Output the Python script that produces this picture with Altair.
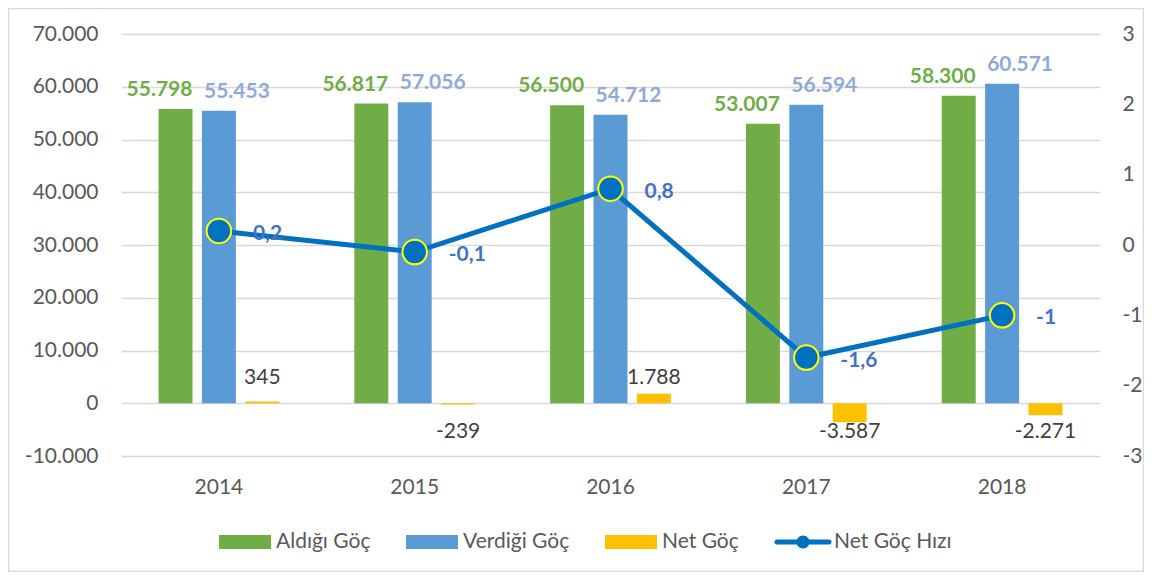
import altair as alt
import pandas as pd

# ---- data ----
years = ["2014", "2015", "2016", "2017", "2018"]
aldigi = [55798, 56817, 56500, 53007, 58300]
verdigi = [55453, 57056, 54712, 56594, 60571]
net = [345, -239, 1788, -3587, -2271]
hiz = [0.2, -0.1, 0.8, -1.6, -1.0]

bar_series = ["Aldığı Göç", "Verdiği Göç", "Net Göç"]
all_series = ["Aldığı Göç", "Verdiği Göç", "Net Göç", "Net Göç Hızı"]
colors = ["#70AD47", "#5B9BD5", "#FFC000", "#0070C0"]
left_ticks = [-10000, 0, 10000, 20000, 30000, 40000, 50000, 60000, 70000]
right_ticks = [-3, -2, -1, 0, 1, 2, 3]

# ---- tables ----
rows = []
for i, y in enumerate(years):
    rows.append({"year": y, "series": bar_series[0], "value": aldigi[i]})
    rows.append({"year": y, "series": bar_series[1], "value": verdigi[i]})
    rows.append({"year": y, "series": bar_series[2], "value": net[i]})
bars_df = pd.DataFrame(rows)
line_df = pd.DataFrame({"year": years, "hiz": hiz})
legend_df = pd.DataFrame({"series": all_series})
frame_df = pd.DataFrame({"k": [0]})

rect_path = "M-1,-0.27H1V0.27H-1Z"
line_path = ("M-1,-0.1H1A0.1,0.1 0 0 1 1,0.1H-1A0.1,0.1 0 0 1 -1,-0.1Z "
             "M0.25,0A0.25,0.25 0 1 1 -0.25,0A0.25,0.25 0 1 1 0.25,0Z")
shapes = [rect_path, rect_path, rect_path, line_path]

AX = "#595959"
FS = 21

X = alt.X("year:N", scale=alt.Scale(domain=years, paddingInner=0, paddingOuter=0),
          axis=alt.Axis(title=None, labelAngle=0, labelFontSize=FS, labelColor=AX,
                        domain=False, ticks=False, labelPadding=20, grid=False))
XOFF = alt.XOffset("series:N", scale=alt.Scale(domain=bar_series, paddingInner=0.217,
                                               paddingOuter=0.865))
YL = alt.Y("value:Q", scale=alt.Scale(domain=[-10000, 70000], nice=False, zero=False),
           axis=alt.Axis(title=None, values=left_ticks, format=",.0f", labelFontSize=FS,
                         labelColor=AX, domain=False, ticks=False, labelPadding=23,
                         gridColor="#D9D9D9", gridWidth=1.3))
YR = alt.Y("hiz:Q", scale=alt.Scale(domain=[-3, 3], nice=False, zero=False),
           axis=alt.Axis(title=None, orient="right", values=right_ticks, format="d",
                         labelFontSize=FS, labelColor=AX, domain=False, ticks=False,
                         labelPadding=22, grid=False))

LEG = alt.Legend(title=None, orient="none", legendX=98, legendY=482, direction="horizontal",
                 symbolSize=2704, labelFontSize=FS, labelColor=AX, labelOffset=5,
                 columnPadding=35, padding=0, labelLimit=300, symbolStrokeWidth=0)
COLOR = alt.Color("series:N", scale=alt.Scale(domain=all_series, range=colors), legend=LEG)

base = alt.Chart(bars_df)
bars = base.mark_bar().encode(x=X, xOffset=XOFF, y=YL, color=COLOR)

green_lbl = base.transform_filter(alt.datum.series == bar_series[0]).mark_text(
    fontSize=FS, fontWeight="bold", color="#70AD47", baseline="middle", dy=-19, dx=-16
).encode(x=X, xOffset=XOFF, y=YL, text=alt.Text("value:Q", format=",.0f"))
blue_lbl = base.transform_filter(alt.datum.series == bar_series[1]).mark_text(
    fontSize=FS, fontWeight="bold", color="#8EAADB", baseline="middle", dy=-19, dx=18
).encode(x=X, xOffset=XOFF, y=YL, text=alt.Text("value:Q", format=",.0f"))
net_pos = base.transform_filter((alt.datum.series == bar_series[2]) & (alt.datum.value >= 0)).mark_text(
    fontSize=FS, color="#404040", baseline="middle", dy=-25
).encode(x=X, xOffset=XOFF, y=alt.Y(datum=0, scale=alt.Scale(domain=[-10000, 70000], nice=False, zero=False)),
         text=alt.Text("value:Q", format=",.0f"))
net_neg = base.transform_filter((alt.datum.series == bar_series[2]) & (alt.datum.value < 0)).mark_text(
    fontSize=FS, color="#404040", baseline="middle", dy=29
).encode(x=X, xOffset=XOFF, y=alt.Y(datum=0, scale=alt.Scale(domain=[-10000, 70000], nice=False, zero=False)),
         text=alt.Text("value:Q", format=",.0f"))

left = alt.layer(bars, green_lbl, blue_lbl, net_pos, net_neg)

lbase = alt.Chart(line_df)
line = lbase.mark_line(color="#0070C0", strokeWidth=5).encode(x=X, y=YR)
pts = lbase.mark_point(filled=True, size=600, color="#0070C0", stroke="#FFFF00",
                       strokeWidth=2, opacity=1).encode(x=X, y=YR)
line_lbl = lbase.mark_text(align="left", baseline="middle", dx=34, dy=3, fontSize=FS,
                           fontWeight="bold", color="#4472C4").encode(
    x=X, y=YR, text=alt.Text("hiz:Q", format=".1~f"))
right = alt.layer(line, pts, line_lbl)

legend_layer = alt.Chart(legend_df).mark_point(filled=True, size=2704, opacity=1).encode(
    x=alt.value(-3000), y=alt.value(-3000), color=COLOR,
    shape=alt.Shape("series:N", scale=alt.Scale(domain=all_series, range=shapes), legend=LEG))

frame = alt.Chart(frame_df).mark_rect(fill="transparent", stroke="#D9D9D9", strokeWidth=1.5).encode(
    x=alt.value(-112.5), x2=alt.value(1022.5), y=alt.value(-25.5), y2=alt.value(537.5))

chart = alt.layer(frame, left, right, legend_layer).resolve_scale(y="independent").properties(
    width=979, height=422, autosize=alt.AutoSizeParams(type="none"),
    padding={"left": 113, "top": 26, "right": 44, "bottom": 116}
).configure(
    font="Lato",
    locale={"number": {"decimal": ",", "thousands": ".", "grouping": [3],
                       "currency": ["", ""], "minus": "-"}},
).configure_view(stroke=None)

chart.save("out.html", embed_options={"renderer": "svg", "actions": False})
